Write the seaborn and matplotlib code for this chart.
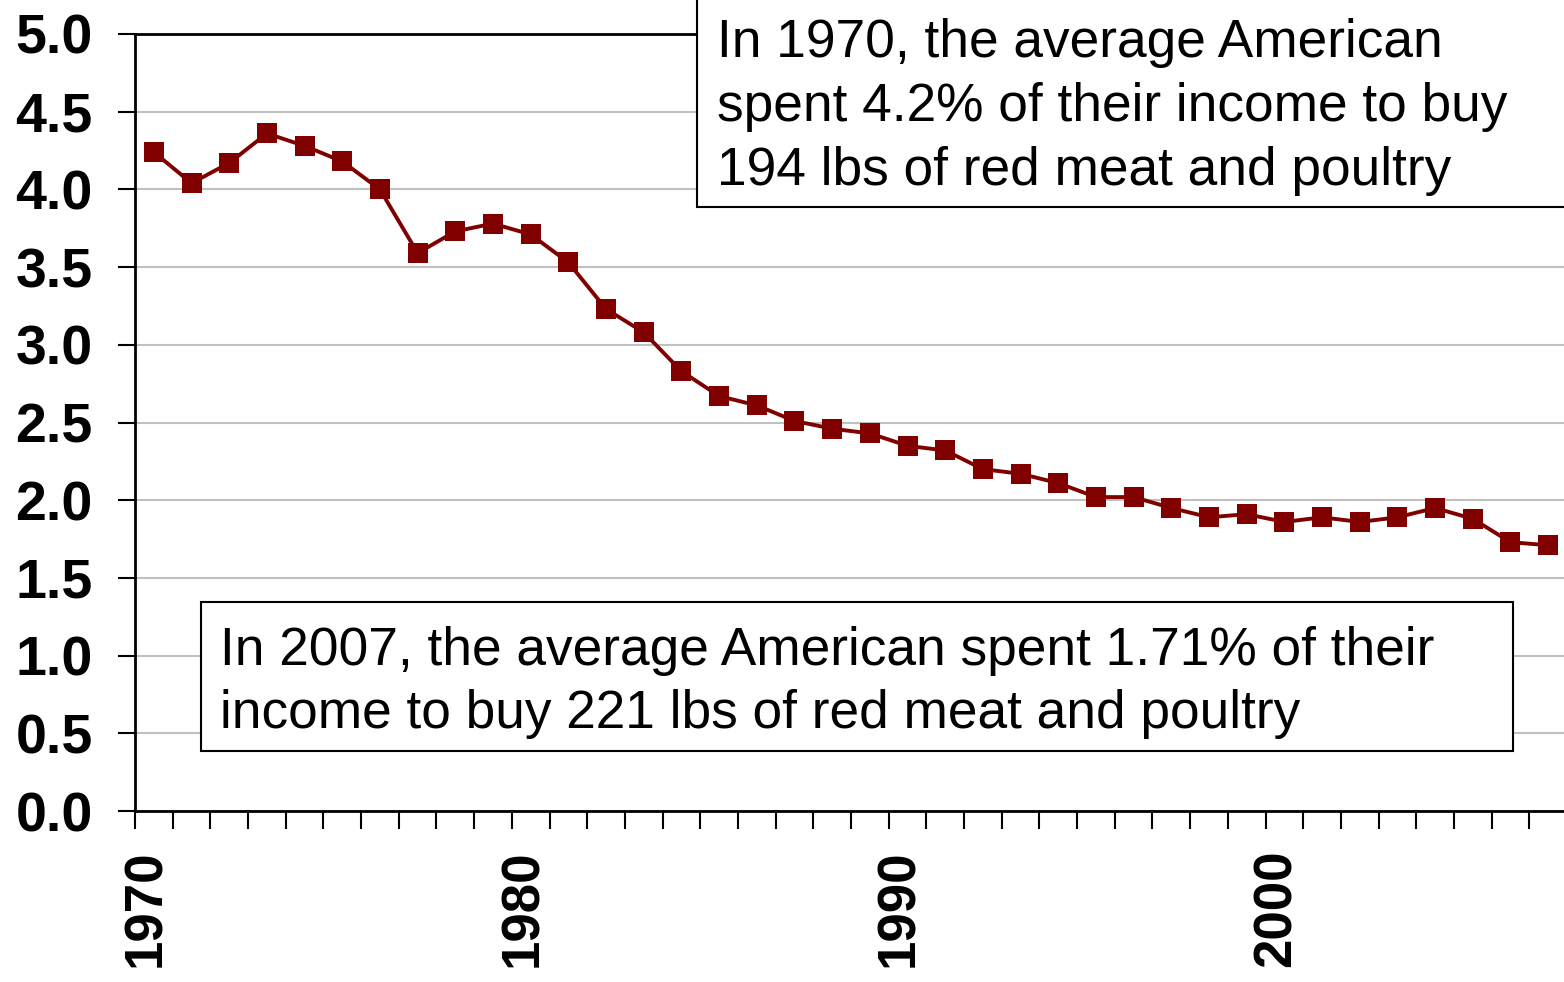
import numpy as np
import pandas as pd
import matplotlib
matplotlib.use("Agg")
import matplotlib.pyplot as plt
import matplotlib.transforms as mtransforms
from matplotlib.patches import Rectangle
import seaborn as sns

# share of income spent on red meat and poultry (%)
years = list(range(1970, 2008))
pct = [4.24, 4.04, 4.17, 4.36, 4.28, 4.18, 4.00, 3.59, 3.73, 3.78,
       3.71, 3.53, 3.23, 3.08, 2.83, 2.67, 2.61, 2.51, 2.46, 2.43,
       2.35, 2.32, 2.20, 2.17, 2.11, 2.02, 2.02, 1.95, 1.89, 1.91,
       1.86, 1.89, 1.86, 1.89, 1.95, 1.88, 1.73, 1.71]
label_years = [1970, 1980, 1990, 2000]
yticks = [0.0, 0.5, 1.0, 1.5, 2.0, 2.5, 3.0, 3.5, 4.0, 4.5, 5.0]

note_1970 = ["In 1970, the average American",
             "spent 4.2% of their income to buy",
             "194 lbs of red meat and poultry"]
note_2007 = ["In 2007, the average American spent 1.71% of their",
             "income to buy 221 lbs of red meat and poultry"]

df = pd.DataFrame({"year": years, "pct": pct})

sns.set_theme(style="white")
plt.rcParams["font.family"] = ["Liberation Sans", "DejaVu Sans"]
plt.rcParams["text.color"] = "black"
plt.rcParams["xtick.color"] = "black"
plt.rcParams["ytick.color"] = "black"

W, H = 1564, 982
fig = plt.figure(figsize=(W / 100, H / 100), dpi=100)
fx = lambda px: px / W
fy = lambda py: 1 - py / H
ax = fig.add_axes([fx(135), fy(811), fx(1567) - fx(135), fy(34) - fy(811)])

sns.lineplot(data=df, x="year", y="pct", ax=ax, color="#800000",
             marker="s", markersize=14.5, markeredgewidth=0,
             linewidth=2.8, zorder=3)

ax.set_xlim(years[0] - 0.5, years[-1] + 0.5)
ax.set_ylim(0, 5)
ax.set_xlabel("")
ax.set_ylabel("")

# y axis
ax.set_yticks(yticks)
ax.set_yticklabels([f"{v:.1f}" for v in yticks], fontsize=40,
                   fontweight="bold", color="black")
ax.yaxis.grid(True, color="#c0c0c0", linewidth=1.5)
ax.tick_params(axis="y", which="major", direction="out", length=12.5,
               width=1.5, color="black", pad=18, left=True)

# x axis: tick marks between categories, labels every 10 years
ax.set_xticks(np.arange(years[0] - 0.5, years[-1] + 1, 1))
ax.set_xticklabels([])
ax.tick_params(axis="x", which="major", direction="out", length=13,
               width=1.5, color="black", bottom=True)
ax.set_xticks(label_years, minor=True)
ax.set_xticklabels([str(y) for y in label_years], minor=True, rotation=90,
                   fontsize=38, fontweight="bold", color="black")
ax.tick_params(axis="x", which="minor", length=0, pad=28)
shift = mtransforms.ScaledTranslation(-8 / 100, 0, fig.dpi_scale_trans)
for lbl in ax.get_xticklabels(minor=True):
    lbl.set_transform(lbl.get_transform() + shift)

for side in ["left", "bottom", "top"]:
    ax.spines[side].set_visible(True)
    ax.spines[side].set_color("black")
    ax.spines[side].set_linewidth(2)
ax.spines["right"].set_visible(False)

# annotation boxes
fig.add_artist(Rectangle((fx(697), fy(207)), fx(1620) - fx(697), fy(-20) - fy(207),
                         transform=fig.transFigure, facecolor="white",
                         edgecolor="black", linewidth=1.5, zorder=5))
for i, line in enumerate(note_1970):
    fig.text(fx(717), fy(57 + 64 * i), line, fontsize=38.3, va="baseline",
             ha="left", color="black", zorder=6)

fig.add_artist(Rectangle((fx(201), fy(751)), fx(1513) - fx(201), fy(602) - fy(751),
                         transform=fig.transFigure, facecolor="white",
                         edgecolor="black", linewidth=1.5, zorder=5))
for i, line in enumerate(note_2007):
    fig.text(fx(220), fy(665 + 63 * i), line, fontsize=38.3, va="baseline",
             ha="left", color="black", zorder=6)

fig.savefig("out.png", dpi=100, facecolor="white")
